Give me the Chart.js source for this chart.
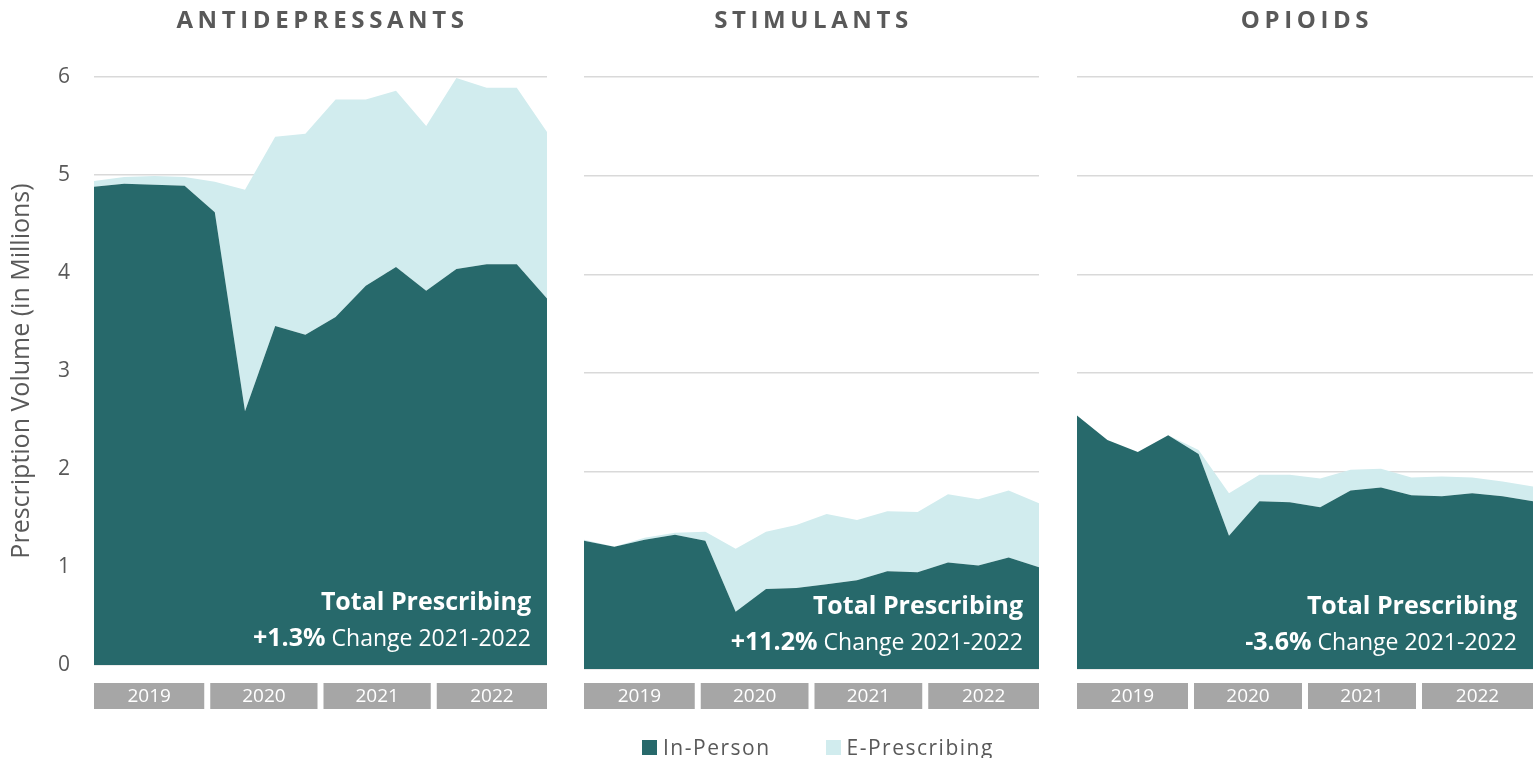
<!DOCTYPE html>
<html>
<head>
<meta charset="utf-8">
<script src="https://cdn.jsdelivr.net/npm/chart.js@4.4.0/dist/chart.umd.min.js"></script>
<style>
  body { margin: 0; background: #fff; font-family: "Open Sans", sans-serif; overflow: hidden; }
  .panel { position: absolute; top: 0; }
  #legend { position: absolute; top: 736px; left: 642px; display: flex; align-items: center;
            font-size: 21px; line-height: 22px; color: #595959; letter-spacing: 1.5px; }
  #legend span.box { display: inline-block; width: 15px; height: 15px; margin-right: 6px; }
  #legend .item { display: flex; align-items: center; margin-right: 55px; }
</style>
</head>
<body>
<div class="panel" style="left:0"><canvas id="c1" width="560" height="758"></canvas></div>
<div class="panel" style="left:570px"><canvas id="c2" width="480" height="758"></canvas></div>
<div class="panel" style="left:1063px"><canvas id="c3" width="470" height="758"></canvas></div>
<div id="legend"></div>
<script>
const quarters = ['Q1 2019', 'Q2 2019', 'Q3 2019', 'Q4 2019',
                  'Q1 2020', 'Q2 2020', 'Q3 2020', 'Q4 2020',
                  'Q1 2021', 'Q2 2021', 'Q3 2021', 'Q4 2021',
                  'Q1 2022', 'Q2 2022', 'Q3 2022', 'Q4 2022'];
const years = ['2019', '2020', '2021', '2022'];
const seriesNames = ['In-Person', 'E-Prescribing'];

// millions of prescriptions per quarter
const antiInPerson     = [4.88, 4.91, 4.90, 4.89, 4.62, 2.59, 3.46, 3.37, 3.55, 3.87, 4.06, 3.82, 4.04, 4.09, 4.09, 3.74];
const antiEPrescribing = [0.06, 0.07, 0.09, 0.09, 0.31, 2.26, 1.93, 2.05, 2.22, 1.90, 1.80, 1.68, 1.95, 1.80, 1.80, 1.70];
const stimInPerson     = [1.30, 1.24, 1.31, 1.36, 1.30, 0.58, 0.81, 0.82, 0.86, 0.90, 0.99, 0.98, 1.08, 1.05, 1.13, 1.03];
const stimEPrescribing = [0.01, 0.00, 0.02, 0.02, 0.09, 0.64, 0.58, 0.64, 0.71, 0.61, 0.61, 0.61, 0.69, 0.67, 0.68, 0.65];
const opioInPerson     = [2.57, 2.32, 2.20, 2.37, 2.18, 1.35, 1.70, 1.69, 1.64, 1.81, 1.84, 1.76, 1.75, 1.78, 1.75, 1.70];
const opioEPrescribing = [0.00, 0.00, 0.00, 0.00, 0.04, 0.43, 0.27, 0.28, 0.29, 0.21, 0.19, 0.18, 0.20, 0.16, 0.15, 0.15];

const panelTitles = ['ANTIDEPRESSANTS', 'STIMULANTS', 'OPIOIDS'];
const totalChange = ['+1.3%', '+11.2%', '-3.6%'];

const darkTeal = '#27696b';
const lightTeal = '#d1ecee';
const grey = '#595959';
const font = '"Open Sans", sans-serif';

// titles, year strip under the axis and the "Total Prescribing" note
const panelDecor = {
  id: 'panelDecor',
  afterDatasetsDraw(chart, args, opts) {
    const ctx = chart.ctx;
    const a = chart.chartArea;
    ctx.save();

    ctx.fillStyle = grey;
    ctx.font = 'bold 24px ' + font;
    ctx.letterSpacing = '4.6px';
    ctx.textAlign = 'center';
    ctx.textBaseline = 'middle';
    ctx.fillText(opts.title, (a.left + a.right) / 2 + 2, 21);
    ctx.letterSpacing = '0px';

    const w = (a.right - a.left) / years.length;
    years.forEach((y, i) => {
      const x0 = a.left + i * w + (i ? 3 : 0);
      const x1 = a.left + (i + 1) * w - (i < years.length - 1 ? 3 : 0);
      ctx.fillStyle = '#a6a6a6';
      ctx.fillRect(x0, 683, x1 - x0, 26);
      ctx.fillStyle = '#fff';
      ctx.font = '19px ' + font;
      ctx.fillText(y, (x0 + x1) / 2, 697);
    });

    const right = a.right - 16;
    ctx.textAlign = 'right';
    ctx.textBaseline = 'alphabetic';
    ctx.fillStyle = '#fff';
    ctx.font = 'bold 25px ' + font;
    ctx.fillText('Total Prescribing', right, a.bottom - 55);
    ctx.font = '23px ' + font;
    const rest = ' Change 2021-2022';
    ctx.fillText(rest, right, a.bottom - 19);
    const restW = ctx.measureText(rest).width;
    ctx.font = 'bold 25px ' + font;
    ctx.fillText(opts.change, right - restW, a.bottom - 19);
    ctx.restore();
  }
};

function makePanel(id, idx, inPerson, ePres, pad, showAxis) {
  return new Chart(document.getElementById(id), {
    type: 'line',
    data: {
      labels: quarters,
      datasets: [
        { label: seriesNames[0], data: inPerson, fill: 'origin', backgroundColor: darkTeal,
          borderWidth: 0, pointRadius: 0, tension: 0 },
        { label: seriesNames[1], data: ePres, fill: '-1', backgroundColor: lightTeal,
          borderWidth: 0, pointRadius: 0, tension: 0 }
      ]
    },
    options: {
      responsive: false,
      animation: false,
      layout: { padding: pad },
      plugins: {
        legend: { display: false },
        tooltip: { enabled: false },
        panelDecor: { title: panelTitles[idx], change: totalChange[idx] }
      },
      scales: {
        x: { display: false },
        y: {
          stacked: true,
          min: 0,
          max: 6,
          afterFit(scale) { scale.width = showAxis ? 94 : 0; },
          border: { display: false },
          grid: { color: '#d9d9d9', lineWidth: 1.5, drawTicks: false },
          ticks: { display: showAxis, stepSize: 1, padding: 24, color: grey, font: { family: font, size: 21 } },
          title: { display: showAxis, text: 'Prescription Volume (in Millions)', color: grey,
                   padding: 7, font: { family: font, size: 25 } }
        }
      }
    },
    plugins: [panelDecor]
  });
}

makePanel('c1', 0, antiInPerson, antiEPrescribing, { top: 77, bottom: 93, left: 0, right: 13 }, true);
makePanel('c2', 1, stimInPerson, stimEPrescribing, { top: 77, bottom: 89, left: 14, right: 11 }, false);
makePanel('c3', 2, opioInPerson, opioEPrescribing, { top: 77, bottom: 89, left: 14, right: 0 }, false);

const legend = document.getElementById('legend');
[darkTeal, lightTeal].forEach((c, i) => {
  const item = document.createElement('div');
  item.className = 'item';
  item.innerHTML = '<span class="box" style="background:' + c + '"></span>' + seriesNames[i];
  legend.appendChild(item);
});
</script>
</body>
</html>
